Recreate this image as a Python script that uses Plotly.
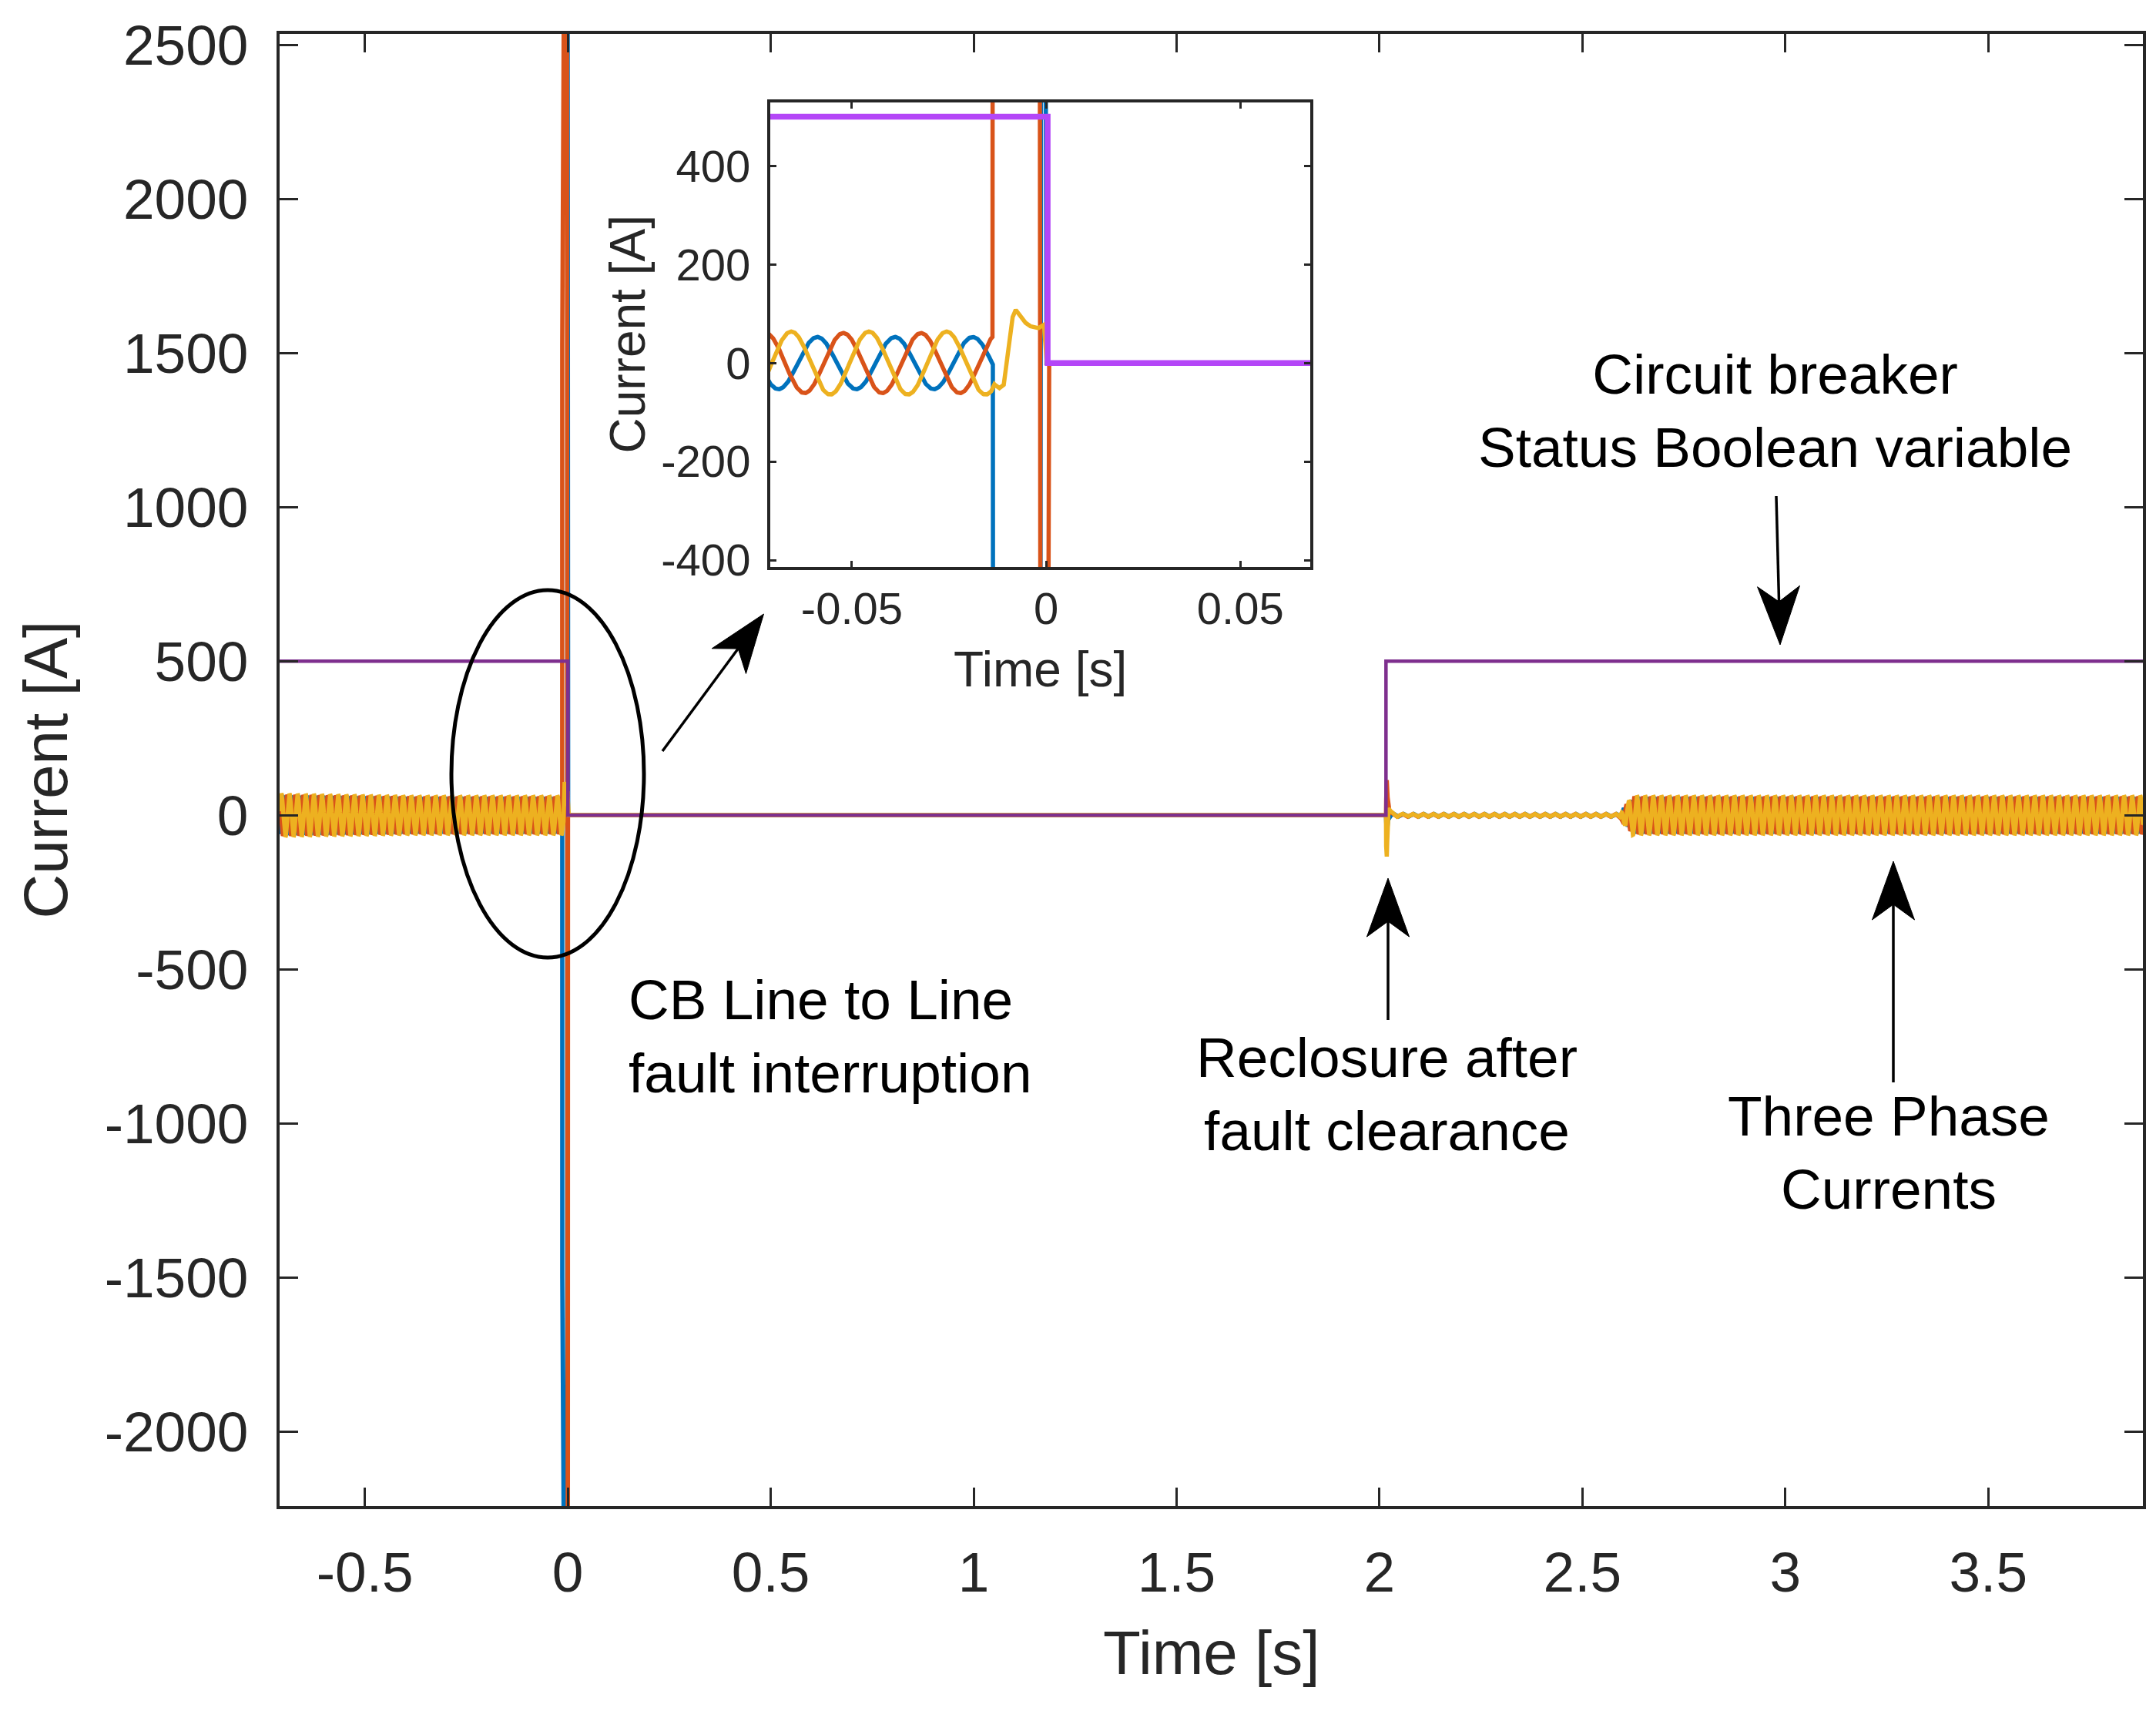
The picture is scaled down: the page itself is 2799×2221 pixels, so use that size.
import numpy as np
import plotly.graph_objects as go

W, H = 2799, 2221
FONT = "Liberation Sans, Arial, Helvetica, sans-serif"
AXC = "#262626"

# ---------------- data ----------------
t_start, t_end = -0.710, 3.881            # time span of the record [s]
f_grid = 50.0                             # supply frequency (period 0.020 s in the inset)
phases = ["Ia", "Ib", "Ic"]
phase_colors = {"Ia": "#0072BD", "Ib": "#D95319", "Ic": "#EDB120"}
amp_pre = {"Ia": 53.0, "Ib": 61.0, "Ic": 64.0}          # crest current [A]
peak_time = {"Ia": 0.0011, "Ib": 0.0078, "Ic": 0.0144}  # time of a crest [s]

# slow drift of the pre-fault amplitude (relative)
pre_env_t = [-0.710, -0.550, -0.380, 0.0]
pre_env_k = [1.10, 1.05, 1.00, 1.00]

# line-to-line fault and its interruption (read in the inset), values beyond the axes are clipped
fault_t = {
    "Ia": [-0.0137, -0.0135, -0.0017, -0.0012, -0.0004, -0.0001, 0.0010],
    "Ib": [-0.0138, -0.0136, -0.0018, -0.0014, 0.0002, 0.0006, 0.0010],
    "Ic": [-0.0140, -0.0133, -0.0122, -0.0109, -0.0100, -0.0089, -0.0078,
           -0.0061, -0.0045, -0.0022, -0.0005, 0.0000, 0.0010],
}
fault_v = {
    "Ia": [-3.0, -3000.0, -3000.0, 3000.0, 3000.0, 0.0, 0.0],
    "Ib": [53.0, 3000.0, 3000.0, -3000.0, -3000.0, 0.0, 0.0],
    "Ic": [-55.0, -43.0, -52.0, -44.0, 8.0, 88.0, 108.0,
           88.0, 76.0, 70.0, 78.0, 0.0, 0.0],
}

# reclosure transient
recl_t = [2.0160, 2.0165, 2.0180, 2.0200, 2.0225, 2.0260, 2.0320, 2.0400]
recl_v = {
    "Ia": [0.0, -20.0, -58.0, -30.0, 5.0, -5.0, 2.0, 0.0],
    "Ib": [0.0, 50.0, 115.0, 60.0, 15.0, 5.0, 2.0, 0.0],
    "Ic": [0.0, -100.0, -133.0, -40.0, 25.0, 12.0, 4.0, 0.0],
}
# small ripple after reclosure (period ~0.025 s) and its amplitude envelope [A]
ripple_f = 40.0
ripple_shift = {"Ia": -0.3, "Ib": 0.3, "Ic": 0.0}
ripple_env_t = [2.0160, 2.0300, 2.5920, 2.6050]
ripple_env_v = [0.0, 5.0, 5.0, 0.0]
# load current restored (relative to pre-fault amplitude)
restore_env_t = [2.5920, 2.6000, 2.6250, 3.8810]
restore_env_v = [0.0, 0.4, 1.0, 1.0]

# circuit breaker status (Boolean x 500)
cb_t = [t_start, 0.0004, 0.0004, 2.016, 2.016, t_end]
cb_v = [500, 500, 0, 0, 500, 500]

# ticks
main_xticks = [-0.5, 0, 0.5, 1, 1.5, 2, 2.5, 3, 3.5]
main_xtick_text = ["-0.5", "0", "0.5", "1", "1.5", "2", "2.5", "3", "3.5"]
main_yticks = [-2000, -1500, -1000, -500, 0, 500, 1000, 1500, 2000, 2500]
main_ytick_text = ["-2000", "-1500", "-1000", "-500", "0", "500", "1000", "1500", "2000", "2500"]
inset_xticks = [-0.05, 0, 0.05]
inset_xtick_text = ["-0.05", "0", "0.05"]
inset_yticks = [-400, -200, 0, 200, 400]
inset_ytick_text = ["-400", "-200", "0", "200", "400"]

main_xrange = [t_start, t_end]
main_yrange = [-2241, 2535]
inset_xrange = [-0.071, 0.068]
inset_yrange = [-414, 529]


def phase_current(p, t):
    y = np.zeros_like(t)
    ft, fv = fault_t[p], fault_v[p]
    pre = t < ft[0]
    env = np.interp(t, pre_env_t, pre_env_k)
    y[pre] = amp_pre[p] * env[pre] * np.cos(2 * np.pi * f_grid * (t[pre] - peak_time[p]))
    flt = (t >= ft[0]) & (t <= ft[-1])
    y[flt] = np.interp(t[flt], ft, fv)
    post = t >= recl_t[0]
    tp = t[post]
    y[post] = (np.interp(tp, recl_t, recl_v[p])
               + np.interp(tp, ripple_env_t, ripple_env_v, left=0, right=0)
               * np.sin(2 * np.pi * ripple_f * tp + ripple_shift[p])
               + np.interp(tp, restore_env_t, restore_env_v, left=0)
               * amp_pre[p] * np.cos(2 * np.pi * f_grid * (tp - peak_time[p])))
    return y


def time_grid(a, b, dt):
    keys = [k for p in phases for k in fault_t[p]] + recl_t
    g = np.concatenate([np.arange(a, b, dt), [b], [k for k in keys if a <= k <= b]])
    return np.unique(g)


t_main = time_grid(t_start, t_end, 0.0005)
t_ins = time_grid(-0.075, 0.072, 0.0001)

fig = go.Figure()
for p in phases:
    fig.add_trace(go.Scatter(x=t_main, y=phase_current(p, t_main), mode="lines",
                             line=dict(color=phase_colors[p], width=5.5),
                             xaxis="x", yaxis="y", showlegend=False, name=p))
fig.add_trace(go.Scatter(x=cb_t, y=cb_v, mode="lines", line=dict(color="#7E2F8E", width=4.5),
                         xaxis="x", yaxis="y", showlegend=False, name="CB"))
for p in phases:
    fig.add_trace(go.Scatter(x=t_ins, y=phase_current(p, t_ins), mode="lines",
                             line=dict(color=phase_colors[p], width=5.5),
                             xaxis="x2", yaxis="y2", showlegend=False, name=p))
fig.add_trace(go.Scatter(x=cb_t, y=cb_v, mode="lines", line=dict(color="#B446F7", width=7.5),
                         xaxis="x2", yaxis="y2", showlegend=False, name="CB"))


def P(x, y):
    return x / W, 1 - y / H


# plot areas (pixels)
ML, MR, MT, MB = 355, 2774, 36, 1947
IL, IR, IT, IB = 992, 1693, 125, 728

axis_common = dict(showline=True, linecolor=AXC, linewidth=4, mirror="ticks", ticks="inside",
                   tickcolor=AXC, tickwidth=3, showgrid=False, zeroline=False, automargin=False,
                   tickfont=dict(family=FONT, color=AXC))

fig.update_layout(
    width=W, height=H, margin=dict(l=0, r=0, t=0, b=0, autoexpand=False),
    paper_bgcolor="white", plot_bgcolor="white",
    xaxis=dict(axis_common, domain=[ML / W, MR / W], range=main_xrange, anchor="y",
               tickvals=main_xticks, ticktext=main_xtick_text, ticklen=24,
               tickfont=dict(family=FONT, color=AXC, size=73), ticklabelstandoff=19),
    yaxis=dict(axis_common, domain=[1 - MB / H, 1 - MT / H], range=main_yrange, anchor="x",
               tickvals=main_yticks, ticktext=main_ytick_text, ticklen=24,
               tickfont=dict(family=FONT, color=AXC, size=73), ticklabelstandoff=22),
    xaxis2=dict(axis_common, domain=[IL / W, IR / W], range=inset_xrange, anchor="y2",
                tickvals=inset_xticks, ticktext=inset_xtick_text, ticklen=8,
                tickfont=dict(family=FONT, color=AXC, size=58), ticklabelstandoff=0),
    yaxis2=dict(axis_common, domain=[1 - IB / H, 1 - IT / H], range=inset_yrange, anchor="x2",
                tickvals=inset_yticks, ticktext=inset_ytick_text, ticklen=8,
                tickfont=dict(family=FONT, color=AXC, size=58), ticklabelstandoff=10),
)

annots = []


def text(x, y, s, size, color="black", align="center", xanchor="center", angle=0):
    px, py = P(x, y)
    annots.append(dict(x=px, y=py, xref="paper", yref="paper", text=s, showarrow=False,
                       font=dict(family=FONT, size=size, color=color), align=align,
                       xanchor=xanchor, yanchor="middle", textangle=angle))


# axis titles
text((ML + MR) / 2, 2137, "Time [s]", 80, AXC)
text(51, (MT + MB) / 2, "Current [A]", 80, AXC, angle=-90)
text((IL + IR) / 2, 861, "Time [s]", 64, AXC)
text(806, (IT + IB) / 2, "Current [A]", 64, AXC, angle=-90)

# annotation texts
text(806, 1337, "CB Line to Line<br>fault interruption", 73, align="left", xanchor="left")
text(1792, 1412, "Reclosure after<br>fault clearance", 73)
text(2296, 525, "Circuit breaker<br>Status Boolean variable", 73)
text(2444, 1488, "Three Phase<br>Currents", 73)

fig.update_layout(annotations=annots)

shapes = []
# ellipse around the fault
ex0, ey0 = P(578, 1235)
ex1, ey1 = P(828, 758)
shapes.append(dict(type="circle", xref="paper", yref="paper", x0=ex0, y0=ey0, x1=ex1, y1=ey1,
                   line=dict(color="black", width=5), layer="above"))


def arrow(tail, tip, head_len=76, head_half=27.5, notch=56, lw=3.5):
    tx, ty = tail
    hx, hy = tip
    dx, dy = hx - tx, hy - ty
    L = (dx * dx + dy * dy) ** 0.5
    ux, uy = dx / L, dy / L
    nx, ny = -uy, ux
    nb = (hx - ux * notch, hy - uy * notch)
    a0, a1 = P(tx, ty)
    b0, b1 = P(*nb)
    shapes.append(dict(type="line", xref="paper", yref="paper", x0=a0, y0=a1, x1=b0, y1=b1,
                       line=dict(color="black", width=lw), layer="above"))
    pts = [(hx, hy),
           (hx - ux * head_len + nx * head_half, hy - uy * head_len + ny * head_half),
           nb,
           (hx - ux * head_len - nx * head_half, hy - uy * head_len - ny * head_half)]
    path = "M " + " L ".join("%.6f,%.6f" % P(x, y) for x, y in pts) + " Z"
    shapes.append(dict(type="path", xref="paper", yref="paper", path=path,
                       fillcolor="black", line=dict(color="black", width=1), layer="above"))


arrow((852, 967), (983.5, 789))
arrow((1794, 1316), (1794, 1132))
arrow((2450, 1397), (2450, 1110))
arrow((2298, 636), (2303, 829))

fig.update_layout(shapes=shapes)
fig.write_html("out.html")
